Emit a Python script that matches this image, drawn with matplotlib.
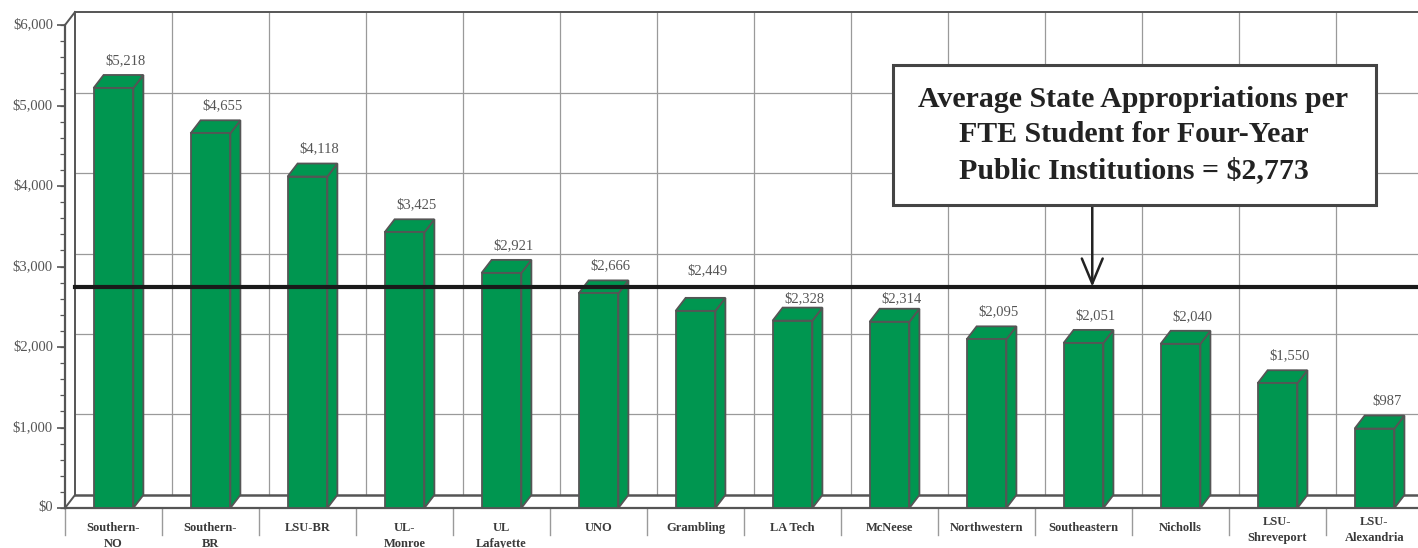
import matplotlib.pyplot as plt
from matplotlib.patches import Polygon, Rectangle

# data
schools = ["Southern-\nNO", "Southern-\nBR", "LSU-BR", "UL-\nMonroe", "UL\nLafayette",
           "UNO", "Grambling", "LA Tech", "McNeese", "Northwestern",
           "Southeastern", "Nicholls", "LSU-\nShreveport", "LSU-\nAlexandria"]
funding = [5218, 4655, 4118, 3425, 2921, 2666, 2449, 2328, 2314, 2095,
           2051, 2040, 1550, 987]
average = 2773
y_ticks = [0, 1000, 2000, 3000, 4000, 5000, 6000]
y_minor = list(range(0, 6001, 200))
box_text = "Average State Appropriations per\nFTE Student for Four-Year\nPublic Institutions = $2,773"

plt.rcParams['font.family'] = ['Liberation Serif', 'DejaVu Serif']

GREEN = '#009650'
EDGE = '#555555'
GRID = '#9a9a9a'

fig = plt.figure(figsize=(14.18, 5.48), dpi=100)
ax = fig.add_axes([0, 0, 1, 1])
ax.set_xlim(-1.170, 13.448)
ax.set_ylim(-497, 6311)
ax.axis('off')

# size of one pixel in data units, used for the fake 3d depth
px_x = 1 / 97
px_y = 1000 / 80.45
dx = 10 * px_x
dy = 13 * px_y
x0 = -0.5
xmax = ax.get_xlim()[1] + 0.5
n = len(schools)

# back wall grid
for t in y_ticks[1:-1]:
    ax.plot([x0 + dx, xmax], [t + dy, t + dy], color=GRID, lw=0.9, zorder=1)
for k in range(1, n + 1):
    ax.plot([k - 0.5 + dx] * 2, [dy, y_ticks[-1] + dy], color=GRID, lw=0.9, zorder=1)

# walls and floor edges
ax.plot([x0 + dx] * 2, [dy, y_ticks[-1] + dy], color=EDGE, lw=1.4, zorder=2)
ax.plot([x0 + dx, xmax], [y_ticks[-1] + dy] * 2, color=EDGE, lw=1.4, zorder=2)
ax.plot([x0 + dx, xmax], [dy, dy], color=EDGE, lw=1.8, zorder=2)
ax.plot([x0, xmax], [0, 0], color=EDGE, lw=1.6, zorder=2)
ax.plot([x0, x0 + dx], [0, dy], color=EDGE, lw=1.4, zorder=2)
ax.plot([x0, x0 + dx], [y_ticks[-1], y_ticks[-1] + dy], color=EDGE, lw=1.4, zorder=2)
ax.plot([x0, x0], [0, y_ticks[-1]], color=EDGE, lw=1.6, zorder=2)

# ticks on the front axis
ax.hlines(y_minor, x0 - 5 * px_x, x0, color=EDGE, lw=0.9, zorder=2)
ax.hlines(y_ticks, x0 - 8 * px_x, x0, color=EDGE, lw=1.2, zorder=2)
for t in y_ticks:
    ax.text(x0 - 12 * px_x, t, f"${t:,}", ha='right', va='center',
            fontsize=10.5, color='#555555')

# category cells under the axis
for k in range(n + 1):
    ax.plot([k - 0.5] * 2, [0, -27 * px_y], color=GRID, lw=1.0, zorder=1)
for i, name in enumerate(schools):
    if name.startswith("LSU-\n"):
        ax.text(i, -22 * px_y, name, ha='center', va='center', fontsize=9,
                fontweight='bold', color='#3a3a3a', linespacing=1.45)
    else:
        ax.text(i, -14 * px_y, name, ha='center', va='top', fontsize=9,
                fontweight='bold', color='#3a3a3a', linespacing=1.45)

# bars
hw = 0.205
for i, v in enumerate(funding):
    xl, xr = i - hw, i + hw
    side = Polygon([(xr, 0), (xr + dx, dy), (xr + dx, v + dy), (xr, v)],
                   facecolor=GREEN, edgecolor=EDGE, lw=1.3, zorder=3)
    top = Polygon([(xl, v), (xr, v), (xr + dx, v + dy), (xl + dx, v + dy)],
                  facecolor=GREEN, edgecolor=EDGE, lw=1.3, zorder=3)
    front = Rectangle((xl, 0), 2 * hw, v, facecolor=GREEN, edgecolor=EDGE,
                      lw=1.3, zorder=3)
    ax.add_patch(side)
    ax.add_patch(top)
    ax.add_patch(front)
    # value label, nudged off the average line when they would overlap
    ly = v + dy + 14.5 * px_y
    if abs(ly - average) < 12 * px_y:
        ly = average + 14 * px_y if ly > average else average - 14 * px_y
    ax.text(i + 12 * px_x, ly, f"${v:,}", ha='center',
            va='center', fontsize=10.5, color='#555555', zorder=4)

# average line
ax.plot([x0 + dx, xmax], [average - 2 * px_y] * 2, color='#1a1a1a', lw=3, zorder=5)

# callout box
bx0, by0, bw, bh = 893 / 1418, 1 - 205 / 548, 483 / 1418, 140 / 548
fig.patches.append(Rectangle((bx0, by0), bw, bh, transform=fig.transFigure,
                             facecolor='white', edgecolor='#444444', lw=2.2,
                             zorder=6))
fig.text(bx0 + bw / 2 - 1 / 1418, by0 + bh / 2, box_text, ha='center',
         va='center', fontsize=21.5, fontweight='bold', color='#222222',
         linespacing=1.42, zorder=7)
ax.annotate('', xy=(10.09, average - 2 * px_y), xycoords='data',
            xytext=(10.09, by0), textcoords=('data', 'figure fraction'),
            arrowprops=dict(arrowstyle='->,head_length=1.8,head_width=0.75',
                            color='#222222', lw=1.8, shrinkA=0, shrinkB=0),
            zorder=6)

fig.savefig('out.png', dpi=100)
